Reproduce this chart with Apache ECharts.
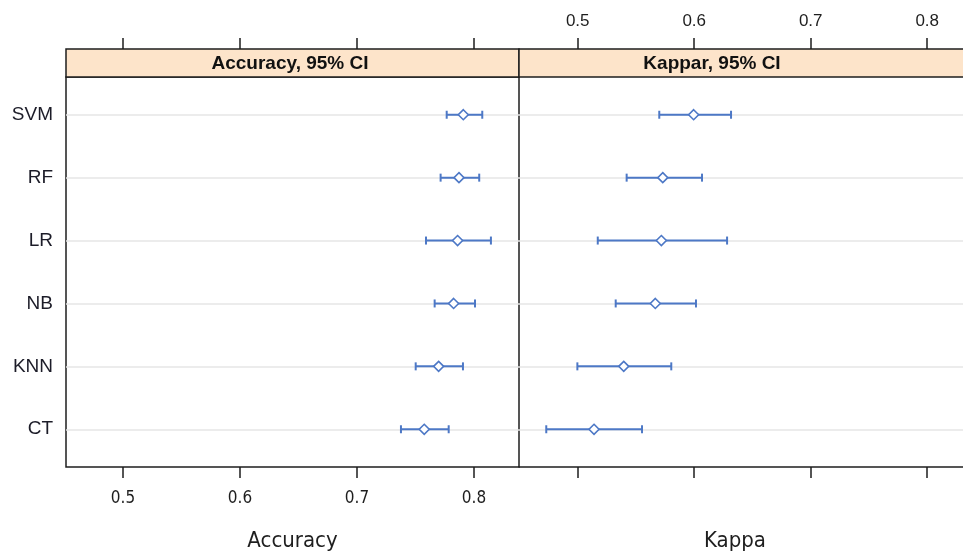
<!DOCTYPE html>
<html>
<head>
<meta charset="utf-8">
<script src="https://cdn.jsdelivr.net/npm/echarts@6/dist/echarts.min.js"></script>
<style>
  html, body { margin: 0; padding: 0; background: #fff; }
  #chart { width: 963px; height: 553px; }
</style>
</head>
<body>
<div id="chart"></div>
<script>
// rows from bottom to top
const models = ["CT", "KNN", "NB", "LR", "RF", "SVM"];
const accLower = [0.7376, 0.7502, 0.7664, 0.7590, 0.7715, 0.7767];
const accMean  = [0.7575, 0.7698, 0.7826, 0.7860, 0.7872, 0.7909];
const accUpper = [0.7784, 0.7906, 0.8009, 0.8145, 0.8045, 0.8071];
const kapLower = [0.4730, 0.4997, 0.5326, 0.5172, 0.5420, 0.5700];
const kapMean  = [0.5140, 0.5395, 0.5666, 0.5718, 0.5730, 0.5995];
const kapUpper = [0.5552, 0.5803, 0.6015, 0.6282, 0.6067, 0.6316];
const xTicks = [0.5, 0.6, 0.7, 0.8];
const rowTicks = [1, 2, 3, 4, 5, 6];

const BLUE = "#4d78c6";
const STRIP = "#fde4ca";
const INK = "#1e1e1e";
const narrow = "'Liberation Sans Narrow', 'DejaVu Sans Condensed', sans-serif";
const sans = "'Liberation Sans', Arial, sans-serif";

const chart = echarts.init(document.getElementById("chart"));

const toRows = (lo, mid, hi) => models.map((m, i) => [lo[i], mid[i], hi[i], i + 1]);

function renderBar(params, api) {
  const y = api.value(3);
  const lo = api.coord([api.value(0), y]);
  const mid = api.coord([api.value(1), y]);
  const hi = api.coord([api.value(2), y]);
  const style = { stroke: BLUE, lineWidth: 2, fill: null };
  const d = 5;
  return {
    type: "group",
    children: [
      { type: "line", shape: { x1: lo[0], y1: lo[1], x2: hi[0], y2: hi[1] }, style },
      { type: "line", shape: { x1: lo[0], y1: lo[1] - 4, x2: lo[0], y2: lo[1] + 4 }, style },
      { type: "line", shape: { x1: hi[0], y1: hi[1] - 4, x2: hi[0], y2: hi[1] + 4 }, style },
      {
        type: "polygon",
        shape: { points: [[mid[0], mid[1] - d], [mid[0] + d, mid[1]], [mid[0], mid[1] + d], [mid[0] - d, mid[1]]] },
        style: { stroke: BLUE, lineWidth: 1.6, fill: "#fff" }
      }
    ]
  };
}

const yAxisBase = {
  type: "value",
  min: 0.4,
  max: 6.6,
  axisLine: { show: false },
  axisTick: { show: false, customValues: rowTicks },
  splitLine: { show: true, lineStyle: { color: "#e6e6e6", width: 1.5 } }
};

const tickStyle = { length: 11, customValues: xTicks, lineStyle: { color: INK, width: 1.5 } };

const option = {
  animation: false,
  grid: [
    { left: 66, right: 444, top: 77, bottom: 86, outerBoundsMode: "none",
      show: true, borderColor: INK, borderWidth: 1.5 },
    // right panel runs off the edge: no right border
    { left: 519, right: 0, top: 77, bottom: 86, outerBoundsMode: "none", show: false }
  ],
  xAxis: [
    {
      gridIndex: 0, type: "value", position: "bottom", min: 0.4513, max: 0.8385,
      axisLine: { show: false }, splitLine: { show: false }, axisTick: tickStyle,
      axisLabel: { customValues: xTicks, margin: 23, color: INK, fontFamily: narrow, fontSize: 17,
        formatter: v => v.toFixed(1) },
      name: "Accuracy", nameLocation: "middle", nameGap: 63,
      nameTextStyle: { fontFamily: narrow, fontSize: 22, color: INK }
    },
    {
      gridIndex: 0, type: "value", position: "top", offset: 28, min: 0.4513, max: 0.8385,
      axisLine: { show: false }, splitLine: { show: false }, axisTick: tickStyle,
      axisLabel: { show: false }
    },
    {
      gridIndex: 1, type: "value", position: "bottom", min: 0.4496, max: 0.8307,
      axisLine: { show: true, lineStyle: { color: INK, width: 1.5 } },
      splitLine: { show: false }, axisTick: tickStyle,
      axisLabel: { show: false },
      name: "Kappa", nameLocation: "middle", nameGap: 63,
      nameTextStyle: { fontFamily: narrow, fontSize: 22, color: INK, padding: [0, 12, 0, 0] }
    },
    {
      gridIndex: 1, type: "value", position: "top", offset: 28, min: 0.4496, max: 0.8307,
      axisLine: { show: false }, splitLine: { show: false }, axisTick: tickStyle,
      axisLabel: { customValues: xTicks, margin: 19, color: INK, fontFamily: sans,
        fontSize: 17, formatter: v => v.toFixed(1) }
    }
  ],
  yAxis: [
    Object.assign({}, yAxisBase, {
      gridIndex: 0,
      axisLabel: { customValues: rowTicks, margin: 13, color: "#1c1c28", fontSize: 19,
        fontFamily: sans, formatter: v => models[Math.round(v) - 1] || "" }
    }),
    Object.assign({}, yAxisBase, { gridIndex: 1, axisLabel: { show: false } })
  ],
  graphic: [
    { type: "rect", shape: { x: 66, y: 49, width: 453, height: 28 },
      style: { fill: STRIP, stroke: INK, lineWidth: 1.5 } },
    { type: "rect", shape: { x: 519, y: 49, width: 460, height: 28 },
      style: { fill: STRIP, stroke: INK, lineWidth: 1.5 } },
    { type: "text", x: 290, y: 64,
      style: { text: "Accuracy, 95% CI", fill: "#111", font: "bold 19px " + sans,
        align: "center", verticalAlign: "middle" } },
    { type: "text", x: 712, y: 64,
      style: { text: "Kappar, 95% CI", fill: "#111", font: "bold 19px " + sans,
        align: "center", verticalAlign: "middle" } }
  ],
  series: [
    { name: "Accuracy", type: "custom", xAxisIndex: 0, yAxisIndex: 0, renderItem: renderBar,
      encode: { x: [0, 1, 2], y: 3 }, data: toRows(accLower, accMean, accUpper) },
    { name: "Kappa", type: "custom", xAxisIndex: 2, yAxisIndex: 1, renderItem: renderBar,
      encode: { x: [0, 1, 2], y: 3 }, data: toRows(kapLower, kapMean, kapUpper) }
  ]
};

chart.setOption(option);
</script>
</body>
</html>
